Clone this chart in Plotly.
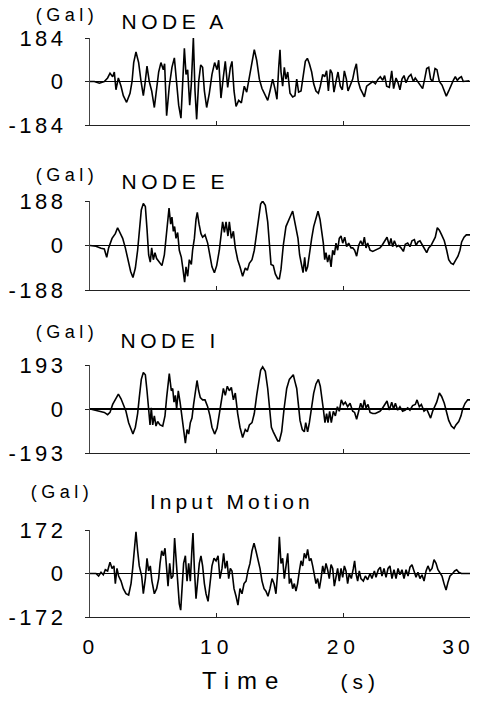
import plotly.graph_objects as go

# ---- data: (time s, acceleration Gal) ----
NODE_A = [
 (0,0),(0.34,0),(0.74,-7),(1.13,0),(1.39,15),(1.58,35),(1.79,20),(1.92,40),(2.05,-35),(2.24,15),
 (2.45,-20),(2.63,-60),(2.89,-88),(3.16,-50),(3.32,0),(3.45,80),(3.63,125),(3.84,80),(4.03,0),(4.21,-60),
 (4.34,-10),(4.5,65),(4.68,0),(4.87,-40),(5.08,-110),(5.26,-30),(5.42,40),(5.6,80),(5.79,50),(5.89,75),
 (6.05,-145),(6.26,-20),(6.47,60),(6.66,100),(6.84,0),(7.0,-100),(7.18,-155),(7.34,0),(7.45,140),(7.58,30),
 (7.71,50),(7.87,-100),(8.0,-10),(8.16,184),(8.29,-40),(8.42,-160),(8.58,0),(8.74,70),(8.89,60),(9.03,-40),
 (9.21,-110),(9.42,-50),(9.63,30),(9.84,80),(10.03,50),(10.16,90),(10.34,-70),(10.53,20),(10.68,85),(10.87,-25),
 (11.08,60),(11.21,85),(11.37,-40),(11.53,-105),(11.74,-80),(11.95,-90),(12.18,-20),(12.37,-45),(12.58,25),(12.79,80),
 (12.97,135),(13.16,90),(13.37,10),(13.58,-30),(13.84,-60),(14.03,-80),(14.21,-40),(14.42,10),(14.6,-30),(14.76,-75),
 (14.9,60),(15.0,134),(15.08,40),(15.21,-20),(15.34,60),(15.47,10),(15.61,40),(15.79,-50),(16.0,-65),(16.18,-60),
 (16.32,10),(16.47,-45),(16.66,-40),(16.84,30),(17.0,85),(17.16,98),(17.32,75),(17.5,40),(17.66,-10),(17.84,-40),
 (18.03,-50),(18.18,-20),(18.37,30),(18.53,20),(18.68,45),(18.82,-40),(18.97,50),(19.11,35),(19.26,-45),(19.42,0),
 (19.58,40),(19.76,-20),(19.92,-35),(20.08,45),(20.24,10),(20.37,-40),(20.55,-15),(20.74,10),(20.89,50),(21.03,75),
 (21.18,0),(21.34,-30),(21.53,-50),(21.66,-65),(21.84,-20),(22.05,-10),(22.32,0),(22.53,-10),(22.74,10),(22.92,20),
 (23.11,5),(23.26,25),(23.42,-20),(23.63,-25),(23.82,45),(23.97,-30),(24.16,15),(24.32,-5),(24.47,-35),(24.63,10),
 (24.79,25),(24.95,-5),(25.16,20),(25.34,30),(25.53,0),(25.68,15),(25.87,0),(26.05,-10),(26.26,-30),(26.42,10),
 (26.58,55),(26.74,60),(26.89,10),(27.05,0),(27.24,55),(27.39,50),(27.58,0),(27.79,-15),(27.97,-40),(28.13,-62),
 (28.32,-40),(28.5,-15),(28.68,5),(28.84,20),(29.0,5),(29.16,15),(29.32,20),(29.47,0),(29.68,0),(29.95,3),
]

NODE_E = [
 (0,0),(0.47,-3),(0.87,-12),(1.13,-15),(1.32,-50),(1.47,-10),(1.74,30),(2.0,50),(2.18,75),(2.37,55),
 (2.58,30),(2.79,-10),(3.0,-60),(3.21,-110),(3.39,-135),(3.58,-95),(3.76,-20),(3.89,70),(4.05,150),(4.21,178),
 (4.37,165),(4.5,70),(4.63,-40),(4.76,-70),(4.87,-10),(5.0,-60),(5.13,-30),(5.26,-55),(5.47,-70),(5.68,-85),
 (5.87,-40),(6.0,40),(6.13,110),(6.24,158),(6.37,90),(6.47,120),(6.58,60),(6.68,80),(6.79,30),(6.92,55),
 (7.05,-20),(7.21,-50),(7.34,-100),(7.47,-155),(7.58,-90),(7.71,-130),(7.84,-60),(8.0,-80),(8.1,-20),(8.24,30),
 (8.37,110),(8.47,140),(8.61,90),(8.76,50),(8.89,35),(9.08,45),(9.29,10),(9.47,-40),(9.63,-90),(9.82,-115),
 (10.0,-85),(10.21,-20),(10.37,60),(10.47,100),(10.61,55),(10.74,100),(10.89,40),(11.0,100),(11.16,30),(11.32,60),
 (11.47,-10),(11.66,-60),(11.84,-90),(12.05,-130),(12.26,-95),(12.42,-105),(12.58,-75),(12.79,-60),(12.97,-20),(13.16,60),
 (13.32,130),(13.47,175),(13.63,188),(13.84,170),(14.03,100),(14.16,20),(14.29,-80),(14.47,-85),(14.63,-120),(14.82,-140),
 (14.95,-140),(15.08,-100),(15.26,0),(15.47,80),(15.68,110),(15.87,130),(16.0,145),(16.13,110),(16.26,80),(16.42,30),
 (16.55,-40),(16.68,-80),(16.82,-115),(16.95,-50),(17.05,-110),(17.18,-90),(17.32,-30),(17.5,30),(17.66,80),(17.84,115),
 (18.0,145),(18.16,110),(18.32,60),(18.42,10),(18.53,-60),(18.63,-30),(18.76,-70),(18.89,-40),(19.03,-90),(19.16,-20),
 (19.29,-40),(19.42,10),(19.55,-20),(19.68,30),(19.82,40),(19.95,10),(20.11,35),(20.26,-5),(20.42,10),(20.61,-10),
 (20.74,-10),(20.89,-20),(21.05,-45),(21.21,0),(21.37,20),(21.53,0),(21.66,35),(21.79,-10),(21.92,10),(22.11,-20),
 (22.32,-25),(22.53,-20),(22.71,-15),(22.89,-10),(23.05,0),(23.24,15),(23.45,35),(23.63,0),(23.76,30),(23.89,-5),
 (24.03,20),(24.21,-5),(24.37,0),(24.55,-10),(24.74,-25),(24.89,5),(25.08,10),(25.26,-5),(25.42,20),(25.61,25),
 (25.74,0),(25.89,15),(26.05,20),(26.26,0),(26.45,-20),(26.58,-30),(26.74,-10),(26.92,0),(27.11,20),(27.26,35),
 (27.42,75),(27.58,65),(27.76,45),(27.97,20),(28.16,-20),(28.32,-60),(28.5,-75),(28.68,-80),(28.89,-60),(29.05,-45),
 (29.21,-20),(29.34,15),(29.53,35),(29.71,45),(30.0,45),
]

NODE_I = [
 (0,0),(0.47,-5),(0.87,-10),(1.13,-15),(1.39,-25),(1.58,-15),(1.79,20),(2.05,45),(2.24,65),(2.45,45),
 (2.63,20),(2.84,-10),(3.05,-60),(3.24,-90),(3.39,-110),(3.58,-80),(3.76,-20),(3.89,50),(4.05,130),(4.21,160),
 (4.37,150),(4.5,80),(4.63,-20),(4.74,-70),(4.84,5),(4.95,-70),(5.08,-30),(5.21,-75),(5.34,-55),(5.53,-70),
 (5.74,-75),(5.92,-30),(6.05,50),(6.16,110),(6.26,155),(6.42,80),(6.53,90),(6.63,30),(6.74,60),(6.84,0),
 (6.97,80),(7.11,30),(7.26,-30),(7.39,-80),(7.53,-150),(7.66,-90),(7.79,-110),(7.92,-60),(8.05,-40),(8.18,20),
 (8.32,80),(8.45,125),(8.58,80),(8.71,50),(8.89,40),(9.08,40),(9.29,10),(9.47,-30),(9.63,-80),(9.84,-110),
 (10.03,-85),(10.21,-20),(10.37,50),(10.53,90),(10.68,60),(10.84,100),(11.0,80),(11.16,95),(11.32,40),(11.47,70),
 (11.66,-20),(11.84,-80),(12.05,-125),(12.26,-90),(12.42,-100),(12.58,-70),(12.79,-60),(12.97,-20),(13.16,60),(13.32,130),
 (13.47,170),(13.63,185),(13.84,165),(14.03,90),(14.16,10),(14.32,-80),(14.47,-100),(14.63,-120),(14.82,-140),(14.95,-140),
 (15.13,-100),(15.32,0),(15.53,90),(15.74,130),(15.92,140),(16.05,150),(16.18,120),(16.32,90),(16.45,20),(16.58,-50),
 (16.76,-90),(16.92,-100),(17.03,-60),(17.18,-100),(17.32,-60),(17.47,0),(17.66,70),(17.84,110),(18.03,130),(18.18,100),
 (18.32,50),(18.42,0),(18.55,-60),(18.68,-20),(18.79,-60),(18.92,-10),(19.05,-60),(19.21,-10),(19.37,-30),(19.53,10),
 (19.68,-10),(19.84,40),(20.0,20),(20.16,30),(20.34,10),(20.53,25),(20.74,-10),(20.89,-15),(21.05,-45),(21.21,-5),
 (21.37,25),(21.53,0),(21.66,40),(21.79,5),(21.95,20),(22.11,-15),(22.32,-20),(22.53,-20),(22.74,-15),(22.89,-10),
 (23.05,0),(23.24,15),(23.45,35),(23.63,-5),(23.82,30),(23.97,0),(24.11,25),(24.29,-5),(24.47,10),(24.68,-10),
 (24.89,-5),(25.08,5),(25.26,-5),(25.47,15),(25.68,20),(25.82,40),(26.0,10),(26.16,20),(26.37,-10),(26.58,0),
 (26.74,-25),(26.89,-40),(27.05,-10),(27.21,10),(27.37,30),(27.58,70),(27.76,55),(27.97,25),(28.16,-10),(28.32,-50),
 (28.53,-75),(28.74,-85),(28.89,-70),(29.11,-55),(29.29,-30),(29.42,0),(29.61,25),(29.82,40),(30.0,40),
]

INPUT_MOTION = [
 (0,0),(0.47,0),(0.68,-10),(0.87,5),(1.05,-5),(1.21,15),(1.39,10),(1.58,45),(1.74,20),(1.89,30),
 (2.0,-40),(2.13,20),(2.26,-10),(2.45,-30),(2.63,-60),(2.84,-80),(3.05,-85),(3.24,-40),(3.37,20),(3.5,110),
 (3.63,165),(3.76,90),(3.89,30),(4.08,-10),(4.21,-80),(4.37,-20),(4.5,60),(4.63,10),(4.76,30),(4.89,-30),
 (5.08,-80),(5.26,-60),(5.42,-20),(5.53,40),(5.66,90),(5.79,70),(5.92,100),(6.05,20),(6.16,-50),(6.29,40),
 (6.42,-20),(6.55,-10),(6.68,140),(6.82,40),(6.95,-50),(7.05,-120),(7.16,-145),(7.26,-60),(7.39,40),(7.53,70),
 (7.66,-30),(7.79,40),(7.92,-30),(8.05,100),(8.13,160),(8.24,20),(8.37,-100),(8.5,-30),(8.63,40),(8.76,70),
 (8.89,30),(9.03,-40),(9.16,-80),(9.32,-110),(9.47,-40),(9.63,30),(9.79,60),(9.95,50),(10.11,70),(10.26,-20),
 (10.42,20),(10.55,80),(10.68,20),(10.82,50),(10.95,-20),(11.08,20),(11.21,10),(11.37,-60),(11.53,-90),(11.68,-125),
 (11.84,-60),(12.0,-80),(12.16,-40),(12.32,-30),(12.47,10),(12.63,40),(12.79,90),(12.95,120),(13.1,90),(13.26,60),
 (13.42,20),(13.58,-30),(13.74,-60),(13.89,-70),(14.05,-90),(14.21,-60),(14.37,-20),(14.53,-40),(14.68,-80),(14.84,20),
 (14.95,145),(15.08,40),(15.21,60),(15.34,-20),(15.47,40),(15.61,80),(15.74,-40),(15.87,-20),(16.0,-60),(16.13,-40),
 (16.26,-70),(16.39,-40),(16.53,10),(16.66,50),(16.79,30),(16.92,80),(17.05,60),(17.18,95),(17.32,50),(17.45,60),
 (17.58,30),(17.71,-10),(17.84,-40),(17.97,-20),(18.11,-60),(18.24,-20),(18.37,30),(18.5,0),(18.63,40),(18.76,15),
 (18.89,-20),(19.03,35),(19.16,20),(19.29,-50),(19.42,-10),(19.55,20),(19.68,-30),(19.82,20),(19.95,-15),(20.08,30),
 (20.21,10),(20.34,-40),(20.47,0),(20.63,-20),(20.79,20),(20.89,50),(21.0,0),(21.13,-30),(21.26,10),(21.39,-20),
 (21.58,-30),(21.74,-10),(21.92,-25),(22.11,0),(22.26,-20),(22.45,10),(22.58,-15),(22.76,15),(22.92,25),(23.05,-10),
 (23.21,20),(23.37,-15),(23.53,20),(23.68,30),(23.84,-20),(24.0,15),(24.16,-20),(24.32,20),(24.47,-5),(24.63,15),
 (24.79,-20),(24.95,15),(25.11,-10),(25.26,25),(25.42,35),(25.58,10),(25.74,-15),(25.89,5),(26.05,-20),(26.21,-5),
 (26.37,-30),(26.53,10),(26.68,30),(26.84,10),(27.0,20),(27.16,55),(27.32,40),(27.47,15),(27.63,0),(27.79,-10),
 (27.95,-40),(28.11,-65),(28.26,-35),(28.42,-10),(28.63,0),(28.79,10),(28.95,15),(29.11,5),(29.32,0),(29.68,0),
 (30.0,0),
]

PANEL_TITLES = ["NODE A", "NODE E", "NODE I", "Input Motion"]
PANEL_SERIES = [NODE_A, NODE_E, NODE_I, INPUT_MOTION]
PANEL_PEAKS = [184, 188, 193, 172]
X_TICKS = [0, 10, 20, 30]

# ---- layout geometry (pixels of a 477x705 page) ----
W, H = 477, 705
X0, X1 = 90, 470
PANEL_PX = [(38, 125), (201, 290), (365, 453), (530, 617)]   # (top, bottom)
GAL_POS = [(67, 15), (67, 175), (67, 332), (62, 492)]          # centre x, centre y
TITLE_POS = [(174, 21), (175, 181), (170, 340), (232, 501)]    # centre x, centre y

FONT = "Arial, Liberation Sans, Helvetica, sans-serif"

fig = go.Figure()
layout = dict(
    width=W, height=H, margin=dict(l=0, r=0, t=0, b=0),
    paper_bgcolor="white", plot_bgcolor="white", showlegend=False,
    font=dict(family=FONT, color="black"),
)
annotations = []
for i, (series, peak) in enumerate(zip(PANEL_SERIES, PANEL_PEAKS)):
    n = "" if i == 0 else str(i + 1)
    t = [p[0] for p in series]
    a = [p[1] for p in series]
    fig.add_trace(go.Scatter(x=t, y=a, mode="lines",
                             line=dict(color="black", width=1.6),
                             xaxis="x" + n, yaxis="y" + n, hoverinfo="skip"))
    top, bot = PANEL_PX[i]
    last = i == len(PANEL_SERIES) - 1
    layout["xaxis" + n] = dict(
        domain=[X0 / W, X1 / W], range=[0, 30], anchor="y" + n,
        showline=True, linecolor="#222", linewidth=1, mirror=False,
        ticks="inside", ticklen=4, tickcolor="#222", tickvals=X_TICKS,
        showticklabels=last, tickfont=dict(size=21),
        ticklabelstandoff=11, ticklabeloverflow="allow",
        showgrid=False, zeroline=False, automargin=False, fixedrange=True,
    )
    layout["yaxis" + n] = dict(
        domain=[1 - bot / H, 1 - top / H], range=[-peak, peak], anchor="x" + n,
        showline=True, linecolor="#444", linewidth=1,
        ticks="outside", ticklen=4, tickcolor="#222",
        tickvals=[-peak, 0, peak], ticktext=[f"-{peak}", "0", f"{peak}"],
        tickfont=dict(size=22), ticklabelstandoff=14, ticklabeloverflow="allow",
        showgrid=False, zeroline=True, zerolinecolor="black", zerolinewidth=1.2,
        automargin=False, fixedrange=True,
    )
    gx, gy = GAL_POS[i]
    annotations.append(dict(text="(Gal)", x=gx / W, y=1 - gy / H, xref="paper", yref="paper",
                            xanchor="center", yanchor="middle", showarrow=False,
                            font=dict(size=18)))
    tx, ty = TITLE_POS[i]
    annotations.append(dict(text=PANEL_TITLES[i], x=tx / W, y=1 - ty / H, xref="paper", yref="paper",
                            xanchor="center", yanchor="middle", showarrow=False,
                            font=dict(size=21)))

annotations.append(dict(text="Time", x=244 / W, y=1 - 680 / H, xref="paper", yref="paper",
                        xanchor="center", yanchor="middle", showarrow=False, font=dict(size=24)))
annotations.append(dict(text="(s)", x=360 / W, y=1 - 681 / H, xref="paper", yref="paper",
                        xanchor="center", yanchor="middle", showarrow=False, font=dict(size=21)))
layout["annotations"] = annotations
fig.update_layout(**layout)

post = """
var gd = document.getElementById('{plot_id}');
var st = document.createElement('style');
st.textContent = '.js-plotly-plot text { letter-spacing: 3.5px; }';
document.head.appendChild(st);
function ls(){
  var m = {"Time": 8, "(s)": 5, "10": 5, "20": 5, "30": 4, "(Gal)": 4.5, "NODE A": 4.5,
           "NODE E": 4.5, "NODE I": 4.5, "Input Motion": 4};
  gd.querySelectorAll('text').forEach(function(t){
    var s = t.textContent;
    var v = (s in m) ? m[s] : 3.5;
    t.style.letterSpacing = v + 'px';
    var p = t.parentNode;
    var cls = (p && p.getAttribute) ? (p.getAttribute('class') || '') : '';
    if (s === '30' && /(^|\\s)x\\d*tick/.test(cls)) {
      t.setAttribute('dx', '-12');
    }
  });
}
ls();
gd.on('plotly_afterplot', ls);
var k = 0;
var iv = setInterval(function(){ ls(); if (++k > 20) clearInterval(iv); }, 50);
"""
fig.write_html("out.html", post_script=post, config={"staticPlot": True})
